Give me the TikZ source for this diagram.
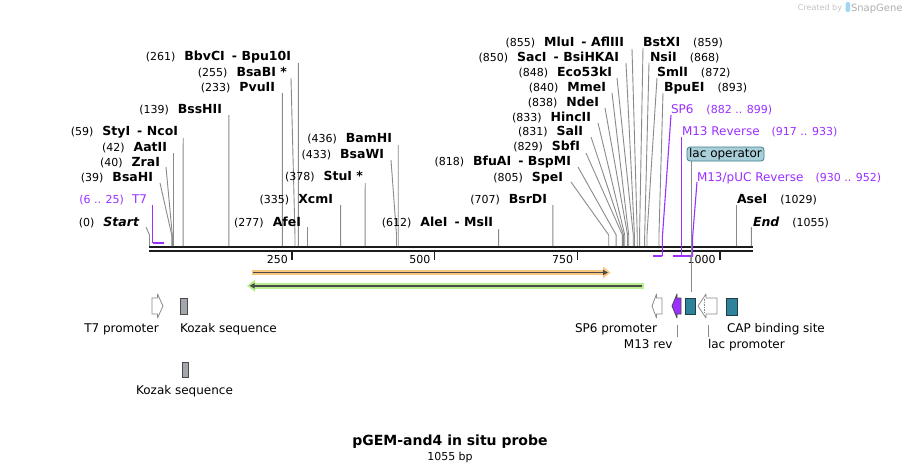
\documentclass[tikz,border=0pt]{standalone}
\usepackage{fontspec}
\setmainfont{DejaVu Sans}
\usetikzlibrary{arrows.meta}
\definecolor{linegray}{HTML}{8A8A8A}
\definecolor{bbone}{HTML}{1C1C1C}
\definecolor{purp}{HTML}{9B30FF}
\definecolor{teal2}{HTML}{2E8299}
\definecolor{tealedge}{HTML}{1E3F4A}
\definecolor{lacfill}{HTML}{A9CFD9}
\definecolor{lacedge}{HTML}{3E7F90}
\definecolor{orangeband}{HTML}{F9C77C}
\definecolor{greenband}{HTML}{B9EE8C}
\definecolor{darkin}{HTML}{4A4A4A}
\definecolor{kozfill}{HTML}{A3A7AD}
\definecolor{wm}{HTML}{C4C4C4}
\definecolor{wmblue}{HTML}{9FD6F2}
\newcommand\numf{\fontsize{11}{13}\selectfont\mdseries\upshape}
\newcommand\namef{\fontsize{12.5}{14}\selectfont\bfseries}
\newcommand\primf{\fontsize{12}{14}\selectfont}
\newcommand\featf{\fontsize{12}{14}\selectfont}
\newcommand\enzsep{\hspace{7pt}-\hspace{4.5pt}}
% left-side enzyme label: id, number, name, east x, centre y, line top x, line top y, bp
\newcommand\enzL[8]{%
  \node[lbl,anchor=base east] (#1) at (#4,#5+4.4) {\numf(#2)\hspace{9pt}\namef #3};
  \pgfmathsetmacro\sx{149.5+#8*0.5705}
  \coordinate (#1-t) at (#6,#7);
  \coordinate (#1-b) at (\sx,235);
  \coordinate (#1-s) at (\sx,246);
  \draw[cutline] (#1-t) -- (#1-b) -- (#1-s);}
% right-side enzyme label
\newcommand\enzR[8]{%
  \node[lbl,anchor=base west] (#1) at (#4,#5+4.4) {\namef #3\hspace{13pt}\numf(#2)};
  \pgfmathsetmacro\sx{149.5+#8*0.5705}
  \coordinate (#1-t) at (#6,#7);
  \coordinate (#1-b) at (\sx,235);
  \coordinate (#1-s) at (\sx,246);
  \draw[cutline] (#1-t) -- (#1-b) -- (#1-s);}
\begin{document}
\begin{tikzpicture}[x=1pt,y=-1pt,
  lbl/.style={inner sep=0pt,outer sep=0pt},
  cutline/.style={draw=linegray,line width=0.9pt},
  primline/.style={draw=purp,line width=1.1pt},
  primbar/.style={draw=purp,line width=2pt},
  tealbox/.style={draw=tealedge,fill=teal2,line width=0.8pt,inner sep=0pt,minimum width=10.5pt,minimum height=16.5pt},
  kozbox/.style={draw=darkin,fill=kozfill,line width=0.8pt,inner sep=0pt},
  promo/.style={draw=linegray,fill=white,line width=0.8pt,line join=round},
  featlbl/.style={lbl,font=\featf}]
\useasboundingbox (0,0) rectangle (902,472);
\fill[white] (0,0) rectangle (902,472);

% watermark
\node[lbl,anchor=base east,text=wm,font=\fontsize{8}{9}\selectfont] (wm1) at (842,10) {Created by};
\fill[wmblue,rounded corners=1.5pt] (845.5,2) rectangle (850,12);
\node[lbl,anchor=base west,text=wm!90!black,font=\fontsize{10}{11}\selectfont] (wm2) at (851,11) {SnapGene};

% backbone
\coordinate (bbL1) at (149,247.2); \coordinate (bbR1) at (752.5,247.2);
\coordinate (bbL2) at (149,251); \coordinate (bbR2) at (752.5,251);
\draw[bbone,line width=2.3pt] (bbL1) -- (bbR1);
\draw[bbone,line width=2pt] (bbL2) -- (bbR2);

% ticks
\foreach \v in {250,500,750,1000}{
  \pgfmathsetmacro\tx{149.5+\v*0.5705}
  \draw[bbone,line width=1.4pt] (\tx,252) -- (\tx,259.5);
  \node[lbl,anchor=base east,font=\numf] (tick\v) at (\tx-4.3,263) {\v};
}

% enzymes (left labels)
\enzL{start}{0}{\itshape Start}{139}{222}{146}{227}{0}
\enzL{bsahi}{39}{BsaHI}{153}{177}{160}{183}{39}
\enzL{zrai}{40}{ZraI}{160}{162}{166}{167}{40}
\enzL{aatii}{42}{AatII}{167}{147}{173.5}{153}{42}
\enzL{styi}{59}{StyI\enzsep NcoI}{178}{131}{183.2}{138}{59}
\enzL{bsshii}{139}{BssHII}{222}{109}{228.8}{115}{139}
\enzL{pvuii}{233}{PvuII}{275}{87}{282.4}{93}{233}
\enzL{bsabi}{255}{BsaBI *}{287}{72}{291}{78}{255}
\enzL{bbvci}{261}{BbvCI\enzsep Bpu10I}{291}{56}{298.4}{63}{261}
\enzL{afei}{277}{AfeI}{301}{222}{307.5}{227}{277}
\enzL{xcmi}{335}{XcmI}{333}{199}{340.6}{205}{335}
\enzL{stui}{378}{StuI *}{363}{176}{365.2}{183}{378}
\enzL{bsawi}{433}{BsaWI}{384}{154}{391}{160}{433}
\enzL{bamhi}{436}{BamHI}{392}{138}{398.2}{145}{436}
\enzL{alei}{612}{AleI\enzsep MslI}{493}{222}{498.7}{229}{612}
\enzL{bsrdi}{707}{BsrDI}{547}{199}{552.8}{205}{707}
\enzL{spei}{805}{SpeI}{563}{177}{571}{182}{805}
\enzL{bfuai}{818}{BfuAI\enzsep BspMI}{571}{161}{578}{167}{818}
\enzL{sbfi}{829}{SbfI}{580}{146}{586}{153}{829}
\enzL{sali}{831}{SalI}{583}{131}{591}{137}{831}
\enzL{hincii}{833}{HincII}{591}{117}{598}{123}{833}
\enzL{ndei}{838}{NdeI}{599}{102}{605}{108}{838}
\enzL{mmei}{840}{MmeI}{606}{87}{612}{93}{840}
\enzL{eco}{848}{Eco53kI}{612}{72}{617}{78}{848}
\enzL{saci}{850}{SacI\enzsep BsiHKAI}{619}{57}{626}{63}{850}
\enzL{mlui}{855}{MluI\enzsep AflIII}{624}{42}{632}{49}{855}
% enzymes (right labels)
\enzR{bstxi}{859}{BstXI}{643}{42}{643}{48}{859}
\enzR{nsii}{868}{NsiI}{650}{57}{649}{63}{868}
\enzR{smli}{872}{SmlI}{657}{72}{657}{78}{872}
\enzR{bpuei}{893}{BpuEI}{664}{87}{663}{93}{893}
\enzR{asei}{1029}{AseI}{737}{199}{736.5}{205}{1029}
\enzR{endl}{1055}{\itshape End}{753}{222}{751.4}{227}{1055}

% primers
\node[lbl,anchor=base east,text=purp] (t7) at (147,203.4) {\numf(6 .. 25)\hspace{8pt}\primf T7};
\coordinate (t7-t) at (152.9,205); \coordinate (t7-b) at (152.9,242.5); \coordinate (t7-e) at (163.8,242.5);
\draw[primline] (t7-t) -- (t7-b);
\draw[primbar] (t7-b) -- (t7-e);

\node[lbl,anchor=base west,text=purp] (sp6) at (671,113.4) {\primf SP6\hspace{13pt}\numf(882 .. 899)};
\coordinate (sp6-t) at (671,115); \coordinate (sp6-m) at (662.4,237); \coordinate (sp6-b) at (662.4,256); \coordinate (sp6-e) at (652.7,256);
\draw[primline] (sp6-t) -- (sp6-m) -- (sp6-b);
\draw[primbar] (sp6-e) -- (sp6-b);

\node[lbl,anchor=base west,text=purp] (m13r) at (682,135.4) {\primf M13 Reverse\hspace{12pt}\numf(917 .. 933)};
\coordinate (m13r-t) at (681.8,137); \coordinate (m13r-b) at (681.8,256); \coordinate (m13r-e) at (672.7,256);
\draw[primline] (m13r-t) -- (m13r-b);
\draw[primbar] (m13r-e) -- (m13r-b);

\node[lbl,anchor=base west,text=purp] (m13p) at (697,181.4) {\primf M13/pUC Reverse\hspace{12pt}\numf(930 .. 952)};
\coordinate (m13p-t) at (697,182); \coordinate (m13p-m) at (692.6,237); \coordinate (m13p-b) at (692.6,256); \coordinate (m13p-e) at (680,256);
\draw[primline] (m13p-t) -- (m13p-m) -- (m13p-b);
\draw[primbar] (m13p-e) -- (m13p-b);

% lac operator label box
\node[draw=lacedge,fill=lacfill,rounded corners=3pt,line width=0.8pt,inner sep=0pt,
      minimum width=77pt,minimum height=14pt,font=\featf] (lacop) at (725.5,154) {lac operator};
\node[tealbox] (lacf) at (690.3,306.3) {};
\coordinate (lacop-t) at (691,161);
\coordinate (lacop-b) at (691,292);
\draw[cutline] (lacop-t) -- (lacop-b);

% ORF-like arrows
\draw[orangeband,line width=5.5pt] (252,272.5) -- (604,272.5);
\fill[orangeband] (603,266.5) -- (610.5,272.5) -- (603,278.5) -- cycle;
\draw[darkin,line width=1.5pt,-{Triangle[length=5pt,width=5pt]}] (253,272.5) -- (608,272.5);

\draw[greenband,line width=5.5pt] (254,285.8) -- (643.5,285.8);
\fill[greenband] (255,279.8) -- (247,285.8) -- (255,291.8) -- cycle;
\draw[darkin,line width=1.5pt,-{Triangle[length=5pt,width=5pt]}] (642,285.8) -- (249.5,285.8);

% features
\draw[promo] (152,298) -- (157.5,298) -- (157.5,294) -- (163,306) -- (157.5,318) -- (157.5,314) -- (152,314) -- cycle;
\node[featlbl,anchor=base] (t7p) at (121.5,332.4) {T7 promoter};

\node[kozbox,minimum width=7pt,minimum height=16pt] (koz1) at (183.5,306) {};
\node[featlbl,anchor=base west] (koz1l) at (180,332.4) {Kozak sequence};
\node[kozbox,minimum width=6pt,minimum height=15pt] (koz2) at (185,369.5) {};
\node[featlbl,anchor=base] (koz2l) at (184.5,394.4) {Kozak sequence};

\draw[promo] (662,298) -- (656.5,298) -- (656.5,294) -- (652,306) -- (656.5,318) -- (656.5,314) -- (662,314) -- cycle;
\node[featlbl,anchor=base east] (sp6p) at (657,332.4) {SP6 promoter};

\draw[draw=darkin,fill=purp,line width=0.8pt,line join=round] (681,298) -- (677,298) -- (677,294) -- (672,306) -- (677,318) -- (677,314) -- (681,314) -- cycle;
\coordinate (m13rev-t) at (677,325); \coordinate (m13rev-b) at (677,337);
\draw[cutline] (m13rev-t) -- (m13rev-b);
\node[featlbl,anchor=base east] (m13revl) at (672.5,348.4) {M13 rev};

\draw[promo] (717,298) -- (706,298) -- (706,294) -- (698,306) -- (706,318) -- (706,314) -- (717,314) -- cycle;
\draw[linegray,line width=0.7pt,densely dotted] (704,298.5) -- (704,313.5);
\coordinate (lacp-t) at (708,325); \coordinate (lacp-b) at (708,337);
\draw[cutline] (lacp-t) -- (lacp-b);
\node[featlbl,anchor=base west] (lacpl) at (708,348.4) {lac promoter};

\node[tealbox,minimum width=11pt,minimum height=17pt] (cap) at (731.5,306.5) {};
\node[featlbl,anchor=base west] (capl) at (727,332.4) {CAP binding site};

% title
\node[lbl,anchor=base,font=\fontsize{14}{16}\selectfont\bfseries] (title) at (450,445) {pGEM-and4 in situ probe};
\node[lbl,anchor=base,font=\numf] (sub) at (450,460) {1055 bp};
\end{tikzpicture}
\end{document}
